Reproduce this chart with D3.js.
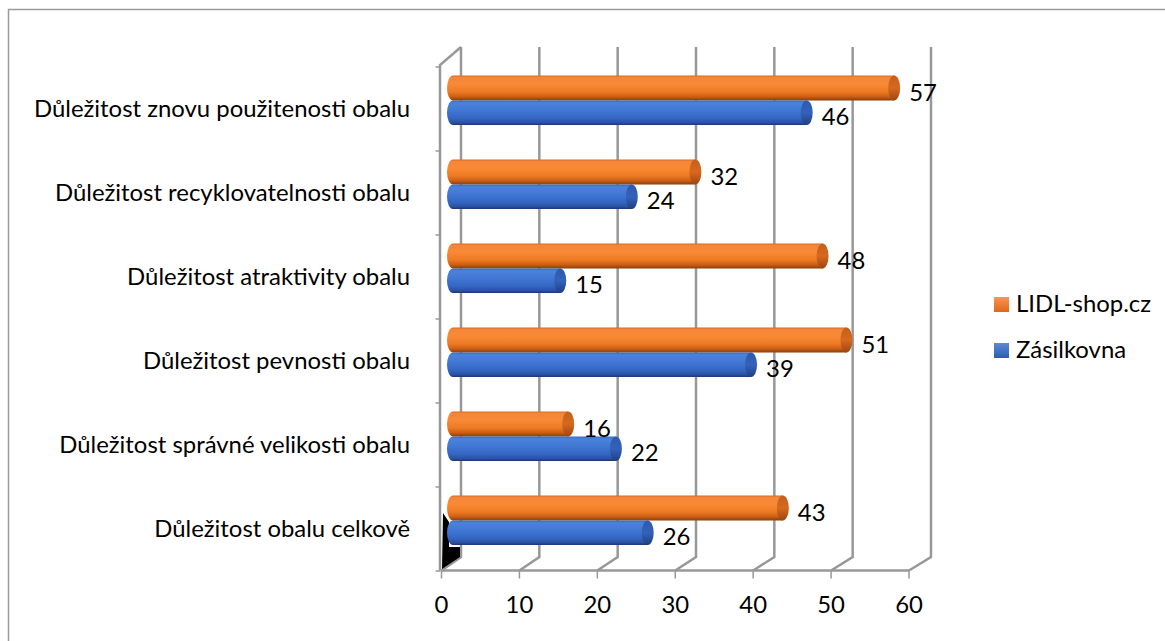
<!DOCTYPE html>
<html>
<head>
<meta charset="utf-8">
<script src="https://cdn.jsdelivr.net/npm/d3@7"></script>
<style>
  html, body { margin: 0; padding: 0; background: #fff; }
  svg { display: block; }
</style>
</head>
<body>
<svg id="chart"></svg>
<script>
// chart values, bottom category first (Excel order)
const categories = [
  "Důležitost obalu celkově",
  "Důležitost správné velikosti obalu",
  "Důležitost pevnosti obalu",
  "Důležitost atraktivity obalu",
  "Důležitost recyklovatelnosti obalu",
  "Důležitost znovu použitenosti obalu"
];
const zasilkovna = [26, 22, 39, 15, 24, 46];
const lidl = [43, 16, 51, 48, 32, 57];
const xTicks = [0, 10, 20, 30, 40, 50, 60];
const seriesNames = ["LIDL-shop.cz", "Zásilkovna"];

const W = 1165, H = 641;
const fontFamily = "Lato, 'Open Sans', sans-serif";

const svg = d3.select("#chart").attr("width", W).attr("height", H);

// fit font size so the longest label is about as wide as in the picture
const probe = svg.append("text").attr("font-family", fontFamily).attr("font-size", 100)
  .text(categories[5]);
const fs = Math.round(376 / probe.node().getComputedTextLength() * 1000) / 10;
probe.remove();

// outer chart border (right/bottom fall outside the picture)
svg.append("rect")
  .attr("x", 8.5).attr("y", 9.5).attr("width", 2000).attr("height", 2000)
  .attr("fill", "none").attr("stroke", "#9a9a9a").attr("stroke-width", 1.5);

// scales: front plane, back wall and the mid plane the bars sit in
const xFront = d3.scaleLinear().domain([0, 60]).range([441.5, 909]);
const xBack = d3.scaleLinear().domain([0, 60]).range([461, 931]);
const xBar = d3.scaleLinear().domain([0, 60]).range([447, 924]);
const yBand = d3.scaleBand().domain(categories).range([571, 67]);

const backTop = 47, backBottom = 557, frontTop = 65, frontBottom = 570.5;
const gridColor = "#989898";

const defs = svg.append("defs");
function grad(id, stops) {
  const g = defs.append("linearGradient").attr("id", id)
    .attr("x1", 0).attr("y1", 0).attr("x2", 0).attr("y2", 1);
  stops.forEach(s => g.append("stop").attr("offset", s[0]).attr("stop-color", s[1]));
}
grad("orangeBody", [[0, "#d86c22"], [0.08, "#f5863a"], [0.35, "#f88a36"], [0.65, "#ef7a22"], [0.85, "#c95f16"], [1, "#8a3d0c"]]);
grad("blueBody", [[0, "#3a6cc4"], [0.1, "#4c82da"], [0.4, "#4078d4"], [0.72, "#3466c4"], [0.9, "#2a52a0"], [1, "#1c386f"]]);
grad("orangeCap", [[0, "#c2601c"], [0.5, "#d8681e"], [1, "#9c4610"]]);
grad("blueCap", [[0, "#2c5aae"], [0.5, "#3462bb"], [1, "#1f3f80"]]);
grad("orangeKey", [[0, "#f7955a"], [1, "#e06716"]]);
grad("blueKey", [[0, "#5b8ad6"], [1, "#2d5bb5"]]);

const grid = svg.append("g").attr("fill", "none").attr("stroke", gridColor).attr("stroke-width", 2.5);

// back wall gridlines with floor diagonals to the front ticks
xTicks.forEach(t => {
  grid.append("path")
    .attr("d", `M${xBack(t)},${backTop}L${xBack(t)},${backBottom}L${xFront(t)},${frontBottom}`);
});
// front floor edge
grid.append("path").attr("d", `M${xFront(0)},${frontBottom}L${xFront(60)},${frontBottom}`);
// left wall front edge and top diagonal
grid.append("path").attr("d", `M${xBack(0)},${backTop}L${xFront(0) - 1.5},${frontTop}L${xFront(0) - 1.5},${frontBottom}`);

// axis ticks
const ticks = svg.append("g").attr("stroke", gridColor).attr("stroke-width", 1.5);
xTicks.forEach(t => {
  ticks.append("line").attr("x1", xFront(t)).attr("x2", xFront(t))
    .attr("y1", frontBottom).attr("y2", frontBottom + 8);
});
const bounds = categories.map(c => yBand(c)).concat([yBand(categories[0]) + yBand.bandwidth()]);
bounds.forEach(b => {
  ticks.append("line").attr("x1", xFront(0) - 6).attr("x2", xFront(0) - 1)
    .attr("y1", b).attr("y2", b);
});

// dark wedge on the left wall near the bottom bars
svg.append("path")
  .attr("d", `M443,513L449,522L449,547L460,547L460,557L442,569Z`)
  .attr("fill", "#000");

// cylinders
const rx = 6;
function cylinder(g, v, yTop, h, body, cap) {
  const x0 = xBar(0), x1 = xBar(v);
  const ry = h / 2, xc = x1 - rx;
  g.append("path")
    .attr("d", `M${x0 + rx},${yTop}L${xc},${yTop}L${xc},${yTop + h}L${x0 + rx},${yTop + h}` +
      `A${rx},${ry} 0 0 1 ${x0 + rx},${yTop}Z`)
    .attr("fill", `url(#${body})`);
  g.append("ellipse")
    .attr("cx", xc).attr("cy", yTop + ry).attr("rx", rx).attr("ry", ry)
    .attr("fill", `url(#${cap})`);
}

const bars = svg.append("g");
const labels = svg.append("g").attr("font-family", fontFamily).attr("font-size", fs).attr("fill", "#000");
categories.forEach((c, i) => {
  const mid = yBand(c) + yBand.bandwidth() / 2 - 8.5;
  const hO = 25, hB = 24.5;
  cylinder(bars, lidl[i], mid - hO, hO, "orangeBody", "orangeCap");
  cylinder(bars, zasilkovna[i], mid, hB, "blueBody", "blueCap");
  labels.append("text").attr("x", xBar(lidl[i]) + 9).attr("y", mid - hO / 2 + 12.5).text(lidl[i]);
  labels.append("text").attr("x", xBar(zasilkovna[i]) + 9).attr("y", mid + hB / 2 + 12.5).text(zasilkovna[i]);
});

// category labels
const catText = svg.append("g").attr("font-family", fontFamily).attr("font-size", fs)
  .attr("fill", "#000").attr("text-anchor", "end");
categories.forEach(c => {
  catText.append("text").attr("x", 410).attr("y", yBand(c) + yBand.bandwidth() / 2 + 8).text(c);
});

// x tick labels
const tickText = svg.append("g").attr("font-family", fontFamily).attr("font-size", fs)
  .attr("fill", "#000").attr("text-anchor", "middle");
xTicks.forEach(t => {
  tickText.append("text").attr("x", xFront(t)).attr("y", 613).text(t);
});

// legend
const legend = svg.append("g").attr("font-family", fontFamily).attr("font-size", fs).attr("fill", "#000");
const keyFills = ["orangeKey", "blueKey"];
seriesNames.forEach((s, i) => {
  const base = 312 + i * 46;
  legend.append("rect").attr("x", 994).attr("y", base - 15).attr("width", 15).attr("height", 15)
    .attr("fill", `url(#${keyFills[i]})`);
  legend.append("text").attr("x", 1016).attr("y", base).text(s);
});
</script>
</body>
</html>
